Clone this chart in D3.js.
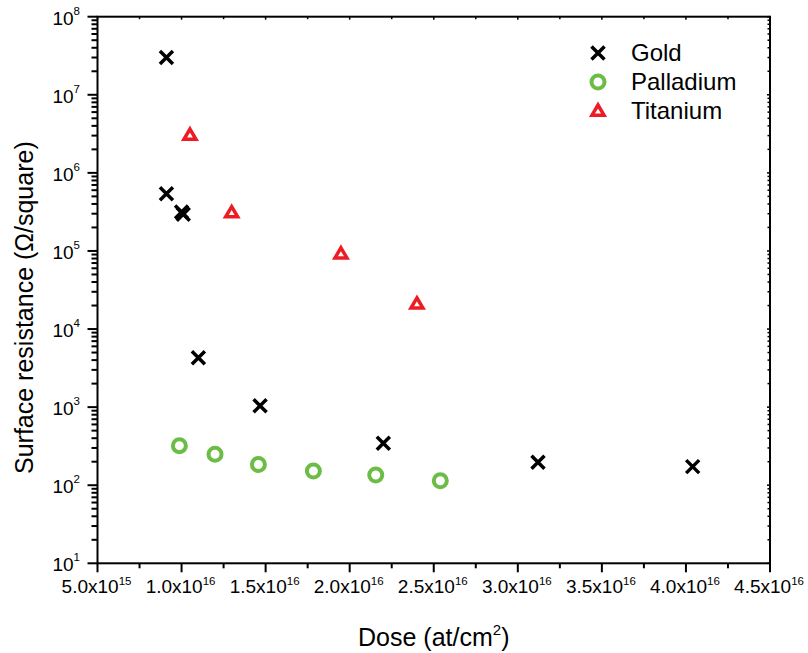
<!DOCTYPE html>
<html>
<head>
<meta charset="utf-8">
<script src="https://cdn.jsdelivr.net/npm/d3@7"></script>
<style>
  html, body { margin: 0; padding: 0; background: #fff; }
  svg { display: block; font-family: "Liberation Sans", Arial, sans-serif; }
</style>
</head>
<body>
<svg id="chart" width="808" height="653"></svg>
<script>
// Dose (at/cm^2) and surface resistance (Ohm/square) per metal
const goldDose = [9.1e15, 9.1e15, 1.0e16, 1.01e16, 1.10e16, 1.467e16, 2.20e16, 3.12e16, 4.04e16];
const goldRes  = [3.0e7, 5.4e5, 3.15e5, 2.95e5, 4.3e3, 1.04e3, 345, 197, 173];
const palladiumDose = [9.87e15, 1.199e16, 1.457e16, 1.784e16, 2.155e16, 2.539e16];
const palladiumRes  = [321, 249, 184, 152, 135, 114];
const titaniumDose = [1.05e16, 1.298e16, 1.948e16, 2.40e16];
const titaniumRes  = [3.05e6, 3.1e5, 9.2e4, 2.1e4];

const xMajorTicks = [5e15, 1e16, 1.5e16, 2e16, 2.5e16, 3e16, 3.5e16, 4e16, 4.5e16];
const xTickLabels = ["5.0x10|15", "1.0x10|16", "1.5x10|16", "2.0x10|16", "2.5x10|16", "3.0x10|16", "3.5x10|16", "4.0x10|16", "4.5x10|16"];
const yExponents = [1, 2, 3, 4, 5, 6, 7, 8];

const seriesNames = ["Gold", "Palladium", "Titanium"];
const seriesColors = ["#000000", "#6cbd45", "#ed1c24"];

const svg = d3.select("#chart");
const margin = { left: 97.5, right: 38, top: 16.7, bottom: 89.7 };
const W = 808, H = 653;
const x = d3.scaleLinear().domain([5e15, 4.5e16]).range([margin.left, W - margin.right]);
const y = d3.scaleLog().domain([10, 1e8]).range([H - margin.bottom, margin.top]);

const x0 = x.range()[0], x1 = x.range()[1];
const y0 = y.range()[0], y1 = y.range()[1];

const xMinorTicks = d3.range(xMajorTicks.length - 1).map(i => (xMajorTicks[i] + xMajorTicks[i + 1]) / 2);
const yMajorTicks = yExponents.map(e => Math.pow(10, e));
const yMinorTicks = [];
yExponents.slice(0, -1).forEach(e => {
  for (let m = 2; m <= 9; m++) yMinorTicks.push(m * Math.pow(10, e));
});

const axisG = svg.append("g").attr("stroke", "#000").attr("fill", "none");

// ticks: outward on bottom/left, short inward on top/right
function vtick(xv, yStart, len, w) {
  axisG.append("line").attr("x1", x(xv)).attr("x2", x(xv)).attr("y1", yStart).attr("y2", yStart + len).attr("stroke-width", w);
}
function htick(yv, xStart, len, w) {
  axisG.append("line").attr("y1", y(yv)).attr("y2", y(yv)).attr("x1", xStart).attr("x2", xStart + len).attr("stroke-width", w);
}
xMajorTicks.forEach(t => { vtick(t, y0, 9, 2); vtick(t, y1, 3, 1.5); });
xMinorTicks.forEach(t => { vtick(t, y0, 5, 2); vtick(t, y1, 2.5, 1.5); });
yMajorTicks.forEach(t => { htick(t, x0, -10, 2); htick(t, x1, -3, 1.5); });
yMinorTicks.forEach(t => { htick(t, x0, -6, 2); htick(t, x1, -2.5, 1.5); });

// frame
axisG.append("rect").attr("x", x0).attr("y", y1).attr("width", x1 - x0).attr("height", y0 - y1).attr("stroke-width", 2);

// x tick labels
const xl = svg.append("g").attr("font-size", 19).attr("fill", "#000").attr("text-anchor", "middle");
xMajorTicks.forEach((t, i) => {
  const [base, sup] = xTickLabels[i].split("|");
  const txt = xl.append("text").attr("x", x(t) - 1).attr("y", y0 + 30);
  txt.append("tspan").text(base);
  txt.append("tspan").attr("font-size", 11.5).attr("dy", -8).text(sup);
});

// y tick labels
const yl = svg.append("g").attr("font-size", 19).attr("fill", "#000").attr("text-anchor", "end");
yMajorTicks.forEach((t, i) => {
  const txt = yl.append("text").attr("x", 80).attr("y", y(t) + 8);
  txt.append("tspan").text("10");
  txt.append("tspan").attr("font-size", 11.5).attr("dy", -10).text(String(yExponents[i]));
});

// axis titles
const xt = svg.append("text").attr("x", (x0 + x1) / 2).attr("y", 646).attr("text-anchor", "middle").attr("font-size", 25);
xt.append("tspan").text("Dose (at/cm");
xt.append("tspan").attr("font-size", 15).attr("dy", -11).text("2");
xt.append("tspan").attr("dy", 11).text(")");

svg.append("text")
  .attr("transform", "translate(33,474) rotate(-90)")
  .attr("text-anchor", "start").attr("font-size", 25)
  .text("Surface resistance (\u03A9/square)");

// marker shapes
function cross(g, cx, cy, color) {
  const s = 6.5;
  g.append("path").attr("d", `M${cx - s},${cy - s}L${cx + s},${cy + s}M${cx - s},${cy + s}L${cx + s},${cy - s}`)
    .attr("stroke", color).attr("stroke-width", 3.5).attr("fill", "none");
}
function ring(g, cx, cy, color) {
  g.append("circle").attr("cx", cx).attr("cy", cy).attr("r", 6.5)
    .attr("stroke", color).attr("stroke-width", 4).attr("fill", "none");
}
function tri(g, cx, cy, color) {
  const s = 6;
  g.append("path").attr("d", `M${cx},${cy - s}L${cx + s},${cy + s * 0.7}L${cx - s},${cy + s * 0.7}Z`)
    .attr("stroke", color).attr("stroke-width", 3.5).attr("stroke-linejoin", "miter").attr("fill", "none");
}
const shapes = [cross, ring, tri];

const marks = svg.append("g");
const series = [[goldDose, goldRes], [palladiumDose, palladiumRes], [titaniumDose, titaniumRes]];
series.forEach(([xs, ys], k) => {
  xs.forEach((d, i) => shapes[k](marks, x(d), y(ys[i]), seriesColors[k]));
});

// legend
const lg = svg.append("g");
seriesNames.forEach((name, i) => {
  const cy = 53 + i * 29;
  shapes[i](lg, 598, cy, seriesColors[i]);
  lg.append("text").attr("x", 631).attr("y", cy + 8).attr("font-size", 24).attr("fill", "#000").text(name);
});
</script>
</body>
</html>
